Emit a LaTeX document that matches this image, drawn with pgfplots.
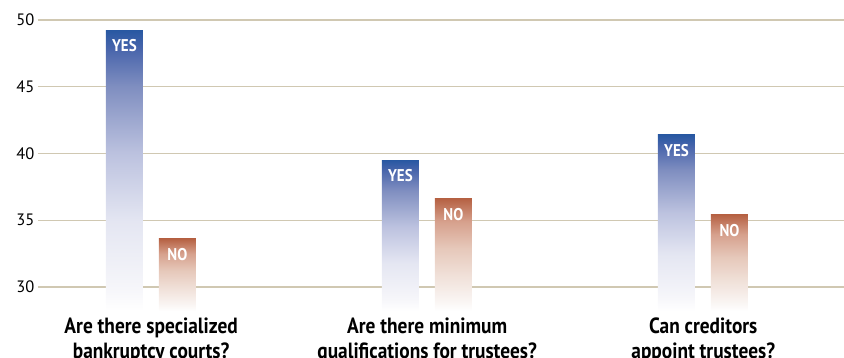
\documentclass[border=0pt]{standalone}
\usepackage{pgfplots}
\pgfplotsset{compat=1.18}
\usepackage{fontspec}
\setmainfont{PT Sans}
\newfontfamily\condfont{PT Sans}[FakeStretch=0.88]
\definecolor{gridc}{RGB}{208,200,178}
\pgfdeclareverticalshading{yesshade}{100bp}{%
  color(0bp)=(white); color(25bp)=(white);
  color(29bp)=(rgb,255:red,246;green,246;blue,250);
  color(41bp)=(rgb,255:red,228;green,230;blue,242);
  color(53bp)=(rgb,255:red,188;green,194;blue,223);
  color(65bp)=(rgb,255:red,127;green,142;blue,192);
  color(71.5bp)=(rgb,255:red,74;green,102;blue,172);
  color(75bp)=(rgb,255:red,40;green,88;blue,162);
  color(100bp)=(rgb,255:red,40;green,88;blue,162)}
\pgfdeclareverticalshading{noshade}{100bp}{%
  color(0bp)=(white); color(25bp)=(white);
  color(29bp)=(rgb,255:red,250;green,246;blue,244);
  color(41bp)=(rgb,255:red,240;green,224;blue,216);
  color(53bp)=(rgb,255:red,230;green,200;blue,186);
  color(65bp)=(rgb,255:red,214;green,160;blue,140);
  color(75bp)=(rgb,255:red,182;green,98;blue,68);
  color(100bp)=(rgb,255:red,182;green,98;blue,68)}
\begin{document}
\begin{tikzpicture}
\useasboundingbox (-38pt,-47pt) rectangle (806pt,311pt);
\begin{axis}[
  at={(0pt,0pt)}, anchor=south west,
  scale only axis, width=806pt, height=311pt,
  xmin=-0.41, xmax=2.51, ymin=28.2, ymax=51.5,
  axis line style={draw=none},
  ytick={30,35,40,45,50},
  ymajorgrids, grid style={gridc, line width=1.3pt},
  major tick length=0pt,
  xtick={0,1,2},
  xticklabels={{Are there specialized\\bankruptcy courts?},{Are there minimum\\qualifications for trustees?},{Can creditors\\appoint trustees?}},
  xticklabel style={align=center, yshift=-3pt, font=\condfont\bfseries\fontsize{22}{25}\selectfont},
  yticklabel style={font=\fontsize{16.5}{18}\selectfont},
  /pgf/number format/assume math mode=true,
]
% YES bars
\addplot[draw=none, shading=yesshade] coordinates {(-0.164,28.2) (-0.164,49.25) (-0.030,49.25) (-0.030,28.2)} -- cycle;
\addplot[draw=none, shading=yesshade] coordinates {(0.836,28.2) (0.836,39.5) (0.970,39.5) (0.970,28.2)} -- cycle;
\addplot[draw=none, shading=yesshade] coordinates {(1.836,28.2) (1.836,41.4) (1.970,41.4) (1.970,28.2)} -- cycle;
% NO bars
\addplot[draw=none, shading=noshade] coordinates {(0.028,28.2) (0.028,33.6) (0.162,33.6) (0.162,28.2)} -- cycle;
\addplot[draw=none, shading=noshade] coordinates {(1.028,28.2) (1.028,36.6) (1.162,36.6) (1.162,28.2)} -- cycle;
\addplot[draw=none, shading=noshade] coordinates {(2.028,28.2) (2.028,35.4) (2.162,35.4) (2.162,28.2)} -- cycle;
% labels
\addplot[draw=none, mark=none, nodes near coords={YES}, every node near coord/.style={anchor=north, text=white, font=\condfont\bfseries\fontsize{17}{18}\selectfont, yshift=-6pt}] coordinates {(-0.097,49.25) (0.903,39.5) (1.903,41.4)};
\addplot[draw=none, mark=none, nodes near coords={NO}, every node near coord/.style={anchor=north, text=white, font=\condfont\bfseries\fontsize{17}{18}\selectfont, yshift=-6pt}] coordinates {(0.095,33.6) (1.095,36.6) (2.095,35.4)};
\end{axis}
\end{tikzpicture}
\end{document}
